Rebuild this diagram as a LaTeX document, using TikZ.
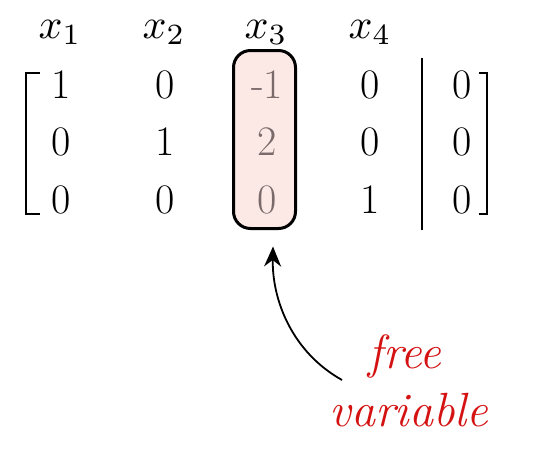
\documentclass[tikz,border=0pt]{standalone}
\usepackage{fontspec}
\usetikzlibrary{arrows.meta}
\definecolor{boxpink}{RGB}{252,233,230}
\definecolor{freegray}{RGB}{122,106,106}
\definecolor{freered}{RGB}{212,18,18}
\newcommand{\hdrvar}[1]{{\fontsize{10}{12}\selectfont\scalebox{4.2}{$x_{#1}$}}}
\begin{document}
\begin{tikzpicture}[x=1pt,y=-1pt,
  every node/.style={inner sep=0pt, font=\fontsize{42}{50}\selectfont},
  entry/.style={anchor=base},
  fentry/.style={anchor=base, text=freegray},
  rule/.style={line width=2pt},
  note/.style={anchor=base, text=freered, font=\fontsize{48}{56}\selectfont\itshape}]
\useasboundingbox (0,0) rectangle (540,463);
% highlight box
\node[draw, line width=3pt, rounded corners=17pt, fill=boxpink,
      minimum width=62pt, minimum height=178pt] (box) at (264.5,139.5) {};
% headers
\node[entry] (h1) at (60,38) {\hdrvar{1}};
\node[entry] (h2) at (164,38) {\hdrvar{2}};
\node[entry] (h3) at (266,38) {\hdrvar{3}};
\node[entry] (h4) at (370,38) {\hdrvar{4}};
% row 1
\node[entry] (a11) at (61,98) {1};
\node[entry] (a12) at (165,98) {0};
\node[fentry] (a13) at (267,98) {-1};
\node[entry] (a14) at (370,98) {0};
\node[entry] (a15) at (462,98) {0};
% row 2
\node[entry] (a21) at (61,155) {0};
\node[entry] (a22) at (165,155) {1};
\node[fentry] (a23) at (267,155) {2};
\node[entry] (a24) at (370,155) {0};
\node[entry] (a25) at (462,155) {0};
% row 3
\node[entry] (a31) at (61,213) {0};
\node[entry] (a32) at (165,213) {0};
\node[fentry] (a33) at (267,213) {0};
\node[entry] (a34) at (370,213) {1};
\node[entry] (a35) at (462,213) {0};
% brackets
\draw[rule] (40,73) -- (26,73) -- (26,214) -- (40,214);
\draw[rule] (479,73) -- (487,73) -- (487,214) -- (479,214);
% augmentation bar
\draw[rule] (422,58) -- (422,230);
% label
\node[note] (free) at (405,368) {free};
\node[note] (var) at (409,426) {variable};
\coordinate (start) at (342,380);
\draw[line width=1.8pt, -{Stealth[length=20pt,width=17pt]}]
  (start) .. controls (292,352) and (272,300) .. ([shift={(8.5,16.5)}]box.south);
\end{tikzpicture}
\end{document}
